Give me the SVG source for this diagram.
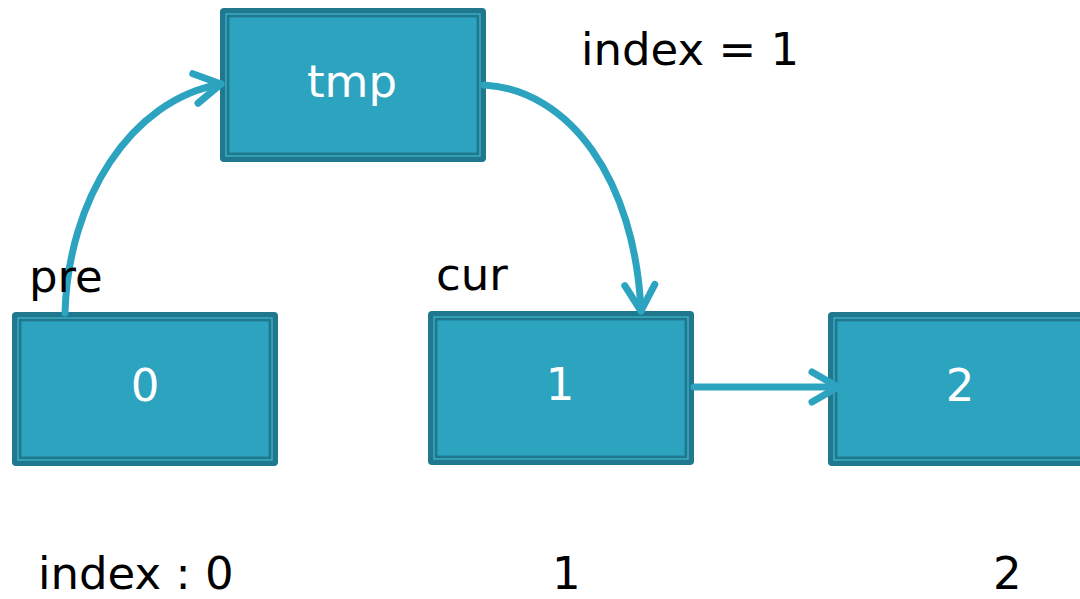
<svg xmlns="http://www.w3.org/2000/svg" width="1080" height="599" viewBox="0 0 1080 599">
<defs>
<style>
.outer{fill:#1f788d;}
.inner{fill:#2ca3bf;stroke:#1f788d;stroke-width:1.8;}
.hl{fill:none;stroke:#3fb2cc;stroke-width:1.3;}
.lbl{font-family:"DejaVu Sans",sans-serif;font-size:45px;fill:#ffffff;text-anchor:middle;}
.txt{font-family:"DejaVu Sans",sans-serif;font-size:45px;fill:#000000;}
.conn{fill:none;stroke:#2ca3bf;stroke-width:7;stroke-linecap:round;stroke-linejoin:round;}
</style>
<marker id="arr" viewBox="0 0 20 20" refX="16" refY="10" markerWidth="20" markerHeight="20" markerUnits="userSpaceOnUse" orient="auto" overflow="visible">
<path d="M-10,-5 L16,10 L-10,25" fill="none" stroke="#2ca3bf" stroke-width="7" stroke-linecap="round" stroke-linejoin="round"/>
</marker>
</defs>
<rect width="1080" height="599" fill="#ffffff"/>

<g id="node-tmp">
<rect class="outer" x="220" y="8" width="266" height="154" rx="4"/>
<rect class="hl" x="226" y="14" width="254" height="142"/>
<rect class="inner" x="228.5" y="16.5" width="249" height="137"/>
<text class="lbl" x="352" y="97">tmp</text>
</g>

<g id="node-0">
<rect class="outer" x="12" y="312" width="266" height="154" rx="4"/>
<rect class="hl" x="18" y="318" width="254" height="142"/>
<rect class="inner" x="20.5" y="320.5" width="249" height="137"/>
<text class="lbl" x="145" y="401">0</text>
</g>

<g id="node-1">
<rect class="outer" x="428" y="311" width="266" height="154" rx="4"/>
<rect class="hl" x="434" y="317" width="254" height="142"/>
<rect class="inner" x="436.5" y="319.5" width="249" height="137"/>
<text class="lbl" x="560" y="400">1</text>
</g>

<g id="node-2">
<rect class="outer" x="828" y="312" width="266" height="154" rx="4"/>
<rect class="hl" x="834" y="318" width="254" height="142"/>
<rect class="inner" x="836.5" y="320.5" width="249" height="137"/>
<text class="lbl" x="960" y="401">2</text>
</g>

<g id="connectors">
<path class="conn" d="M65,313 C68,200 130,100 221,84" marker-end="url(#arr)"/>
<path class="conn" d="M484,85 C570,90 635,180 641,311" marker-end="url(#arr)"/>
<path class="conn" d="M694,387 L838,387" marker-end="url(#arr)"/>
</g>

<g id="labels">
<text class="txt" x="581" y="65">index = 1</text>
<text class="txt" x="29" y="292">pre</text>
<text class="txt" x="436" y="290">cur</text>
<text class="txt" x="38" y="589">index : 0</text>
<text class="txt" x="552" y="589">1</text>
<text class="txt" x="993" y="589">2</text>
</g>
</svg>
